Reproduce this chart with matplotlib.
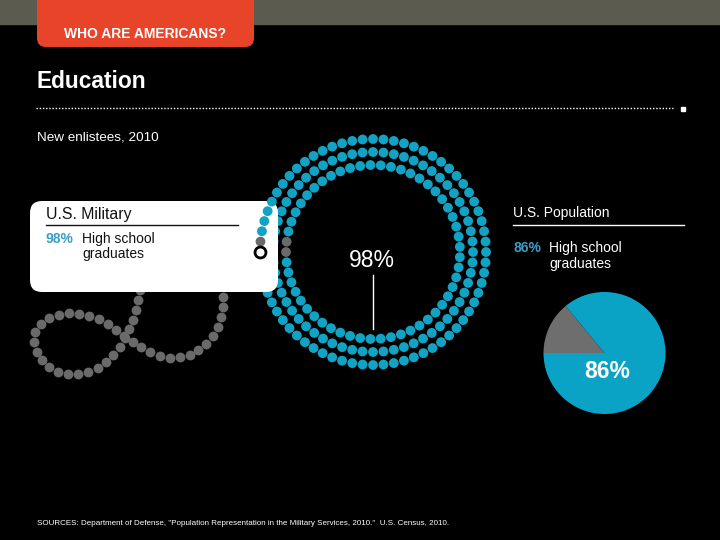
import numpy as np
import matplotlib.pyplot as plt
from matplotlib.patches import FancyBboxPatch, Rectangle

plt.rcParams['font.family'] = ['Liberation Sans', 'DejaVu Sans']

# ---- data ----
section = "WHO ARE AMERICANS?"
title = "Education"
subtitle = "New enlistees, 2010"
groups = ["U.S. Military", "U.S. Population"]
hs_share = [98, 86]          # % high school graduates
hs_label = ["High school", "graduates"]
source = ('SOURCES: Department of Defense, "Population Representation in the '
          'Military Services, 2010."  U.S. Census, 2010.')

BLUE = '#12a3c4'
BLUE_TXT = '#3a9fc6'
GRAY = '#6a6a6a'
RED = '#e8442a'
BAR = '#5c5b4f'


def along(px, py, step):
    # evenly spaced dots along a polyline
    px, py = np.asarray(px, float), np.asarray(py, float)
    s = np.concatenate([[0], np.cumsum(np.hypot(np.diff(px), np.diff(py)))])
    t = np.arange(0, s[-1] + 0.1, step)
    return np.interp(t, s, px), np.interp(t, s, py)


fig = plt.figure(figsize=(7.2, 5.4), dpi=100)
fig.patch.set_facecolor('black')
ax = fig.add_axes([0, 0, 1, 1])
ax.set_facecolor('black')

# ---- pie (population) ----
ax.pie([100 - hs_share[1], hs_share[1]], colors=['#6e6e6e', '#0aa3c6'],
       startangle=180, counterclock=True, center=(604.5, 353), radius=61,
       wedgeprops=dict(linewidth=0))
ax.text(607, 378, f"{hs_share[1]}%", color='white', fontsize=16.5,
        fontweight='bold', ha='center', va='baseline')

ax.set_xlim(0, 720)
ax.set_ylim(540, 0)
ax.set_aspect('auto')
ax.axis('off')

# ---- header ----
ax.add_patch(Rectangle((0, 0), 720, 24, color=BAR, zorder=1))
ax.add_patch(FancyBboxPatch((37, -20), 217, 67, boxstyle='round,pad=0,rounding_size=9',
                            fc=RED, ec='none', zorder=2))
ax.text(145.5, 38, section, color='white', fontsize=10, fontweight='bold',
        ha='center', va='baseline', zorder=3)
ax.text(37, 88, title, color='white', fontsize=16.4, fontweight='bold', va='baseline')
ax.plot([36, 673], [108, 108], color='white', lw=1, ls=(0, (1, 1.3)))
ax.plot(683, 109, 's', ms=3, color='white')
ax.text(37, 141, subtitle, color='white', fontsize=9.7, va='baseline')

# ---- military box ----
ax.add_patch(FancyBboxPatch((30, 201), 248, 91, boxstyle='round,pad=0,rounding_size=12',
                            fc='white', ec='none', zorder=3))
ax.text(46, 219, groups[0], color='#111111', fontsize=11.4, va='baseline', zorder=4)
ax.plot([46, 238], [225, 225], color='#111111', lw=1, zorder=4)
ax.text(46, 243, f"{hs_share[0]}%", color=BLUE_TXT, fontsize=10, fontweight='bold',
        va='baseline', zorder=4)
ax.text(82, 243, hs_label[0], color='#111111', fontsize=10, va='baseline', zorder=4)
ax.text(82, 258, hs_label[1], color='#111111', fontsize=10, va='baseline', zorder=4)

# ---- rings of dots ----
cx, cy = 373, 252
ring_r = [87, 100, 113]
DOT = 50
for i, r in enumerate(ring_r):
    n = int(round(2 * np.pi * r / 10.4))
    th = np.pi + np.arange(n) * 2 * np.pi / n
    x = cx + r * np.cos(th)
    y = cy - r * np.sin(th)
    cols = [BLUE] * n
    if i == 0:
        cols[0] = cols[-1] = GRAY
        ax.scatter(x, y, s=DOT, c=cols, linewidths=0, zorder=2)
    elif i == 1:
        ax.scatter(x, y, s=DOT, c=cols, linewidths=0, zorder=2)
    else:
        cols[-1] = GRAY
        ax.scatter(x[1:-8], y[1:-8], s=DOT, c=cols[1:-8], linewidths=0, zorder=2)
        ax.scatter(x[-8:], y[-8:], s=DOT, c=cols[-8:], linewidths=0, zorder=4)
        ax.scatter(x[0], y[0], s=62, facecolor='white', edgecolor='black',
                   linewidths=2, zorder=4)

ax.text(372, 267, f"{hs_share[0]}%", color='white', fontsize=16.5,
        ha='center', va='baseline')
ax.plot([372.5, 372.5], [275, 329], color='white', lw=1)

# ---- gray loops ----
loop_x = [140, 137, 133, 127, 119, 108, 94, 79, 64, 50, 40, 34, 35, 42, 54, 69, 84,
          99, 113, 126, 140, 156, 172, 188, 202, 213, 220, 223, 223]
loop_y = [290, 305, 320, 335, 349, 361, 370, 374, 374, 368, 359, 346, 332, 322, 316,
          313, 315, 319, 327, 337, 347, 355, 358, 356, 348, 336, 322, 307, 290]
gx, gy = along(loop_x, loop_y, 10.2)
ax.scatter(gx, gy, s=DOT, c=GRAY, linewidths=0, zorder=2)

# ---- population text ----
ax.text(513, 217, groups[1], color='white', fontsize=10, va='baseline')
ax.plot([513, 684], [225, 225], color='white', lw=1)
ax.text(513, 252, f"{hs_share[1]}%", color=BLUE_TXT, fontsize=10, fontweight='bold',
        va='baseline')
ax.text(549, 252, hs_label[0], color='white', fontsize=10, va='baseline')
ax.text(549, 268, hs_label[1], color='white', fontsize=10, va='baseline')

ax.text(37, 525, source, color='white', fontsize=5.75, va='baseline')

fig.savefig('out.png', dpi=100, facecolor='black')
